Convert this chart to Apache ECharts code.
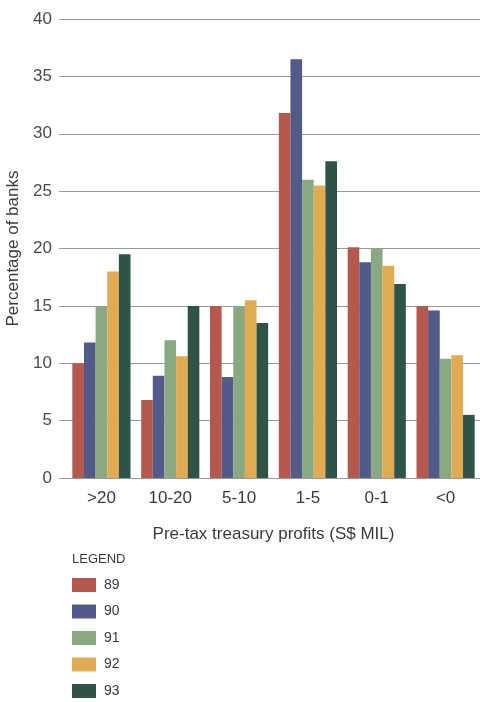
<!DOCTYPE html>
<html>
<head>
<meta charset="utf-8">
<script src="https://cdn.jsdelivr.net/npm/echarts@6/dist/echarts.min.js"></script>
<style>
  html, body { margin: 0; padding: 0; background: #ffffff; }
  #chart { width: 480px; height: 702px; }
</style>
</head>
<body>
<div id="chart"></div>
<script>
// Profit bands (S$ million)
const categories = ['>20', '10-20', '5-10', '1-5', '0-1', '<0'];

// Share of banks in each band, by year (%)
const years = ['89', '90', '91', '92', '93'];
const y89 = [10.0, 6.8, 15.0, 31.8, 20.1, 15.0];
const y90 = [11.8, 8.9, 8.8, 36.5, 18.8, 14.6];
const y91 = [15.0, 12.0, 15.0, 26.0, 20.0, 10.4];
const y92 = [18.0, 10.6, 15.5, 25.5, 18.5, 10.7];
const y93 = [19.5, 15.0, 13.5, 27.6, 16.9, 5.5];
const yearValues = [y89, y90, y91, y92, y93];

const yTicks = { min: 0, max: 40, step: 5 };

const palette = ['#b5594f', '#525a8a', '#8aa882', '#e1ab53', '#2f5346'];
const font = "'Liberation Sans', Arial, sans-serif";
const gridColor = '#999999';
const textColor = '#3a3a3a';

const chart = echarts.init(document.getElementById('chart'), null, { renderer: 'canvas' });

chart.setOption({
  backgroundColor: '#ffffff',
  animation: false,
  color: palette,
  textStyle: { fontFamily: font, color: textColor },
  title: {
    text: 'LEGEND',
    left: 72,
    top: 553,
    padding: 0,
    textStyle: { fontFamily: font, fontSize: 13, fontWeight: 'normal', color: textColor }
  },
  legend: {
    orient: 'vertical',
    left: 72,
    top: 578,
    height: 130,
    padding: 0,
    itemWidth: 24,
    itemHeight: 14,
    itemGap: 12.5,
    icon: 'rect',
    data: years,
    textStyle: { fontFamily: font, fontSize: 14, color: textColor, padding: [0, 0, 0, 3] }
  },
  grid: { left: 67, right: 0, top: 19, bottom: 224, containLabel: false, outerBoundsMode: 'none' },
  xAxis: {
    type: 'category',
    data: categories,
    name: 'Pre-tax treasury profits (S$ MIL)',
    nameLocation: 'middle',
    nameGap: 48,
    nameTextStyle: { fontFamily: font, fontSize: 17, color: textColor },
    axisLine: { show: true, lineStyle: { color: gridColor, width: 1 } },
    axisTick: { show: false },
    axisLabel: { fontFamily: font, fontSize: 17, color: textColor, margin: 12 },
    splitLine: { show: false }
  },
  yAxis: {
    type: 'value',
    min: yTicks.min,
    max: yTicks.max,
    interval: yTicks.step,
    name: 'Percentage of banks',
    nameLocation: 'middle',
    nameGap: 41,
    nameTextStyle: { fontFamily: font, fontSize: 17, color: textColor },
    axisLine: { show: false },
    axisTick: { show: true, length: 8, lineStyle: { color: gridColor, width: 1 } },
    axisLabel: { fontFamily: font, fontSize: 17, color: '#4a4a4a', margin: 15 },
    splitLine: { show: true, lineStyle: { color: gridColor, width: 1 } }
  },
  series: years.map((y, i) => ({
    name: y,
    type: 'bar',
    data: yearValues[i],
    barGap: '0%',
    barCategoryGap: '15.5%',
    itemStyle: { color: palette[i] }
  }))
});
</script>
</body>
</html>
